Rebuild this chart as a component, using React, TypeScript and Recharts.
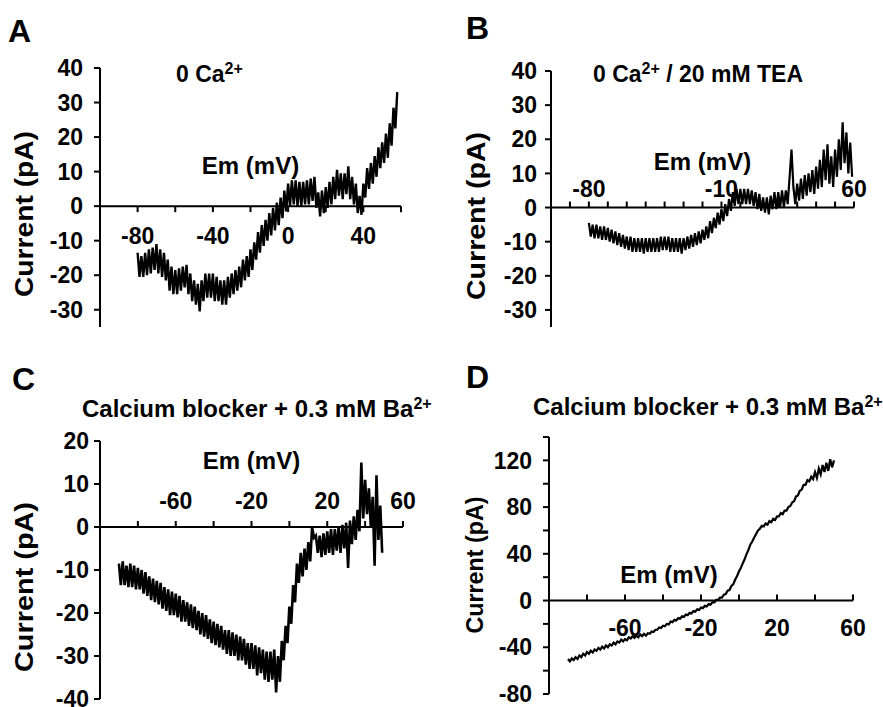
import React from 'react';
import { LineChart, Line, XAxis, YAxis, ReferenceLine, ReferenceDot } from 'recharts';

const FONT = '"Liberation Sans", Arial, Helvetica, sans-serif';

// I-V traces, [Em (mV), current (pA)]
const traceA: [number, number][] = [
  [-80, -13.5], [-79, -20.5], [-78, -14.5], [-77, -20.5], [-76, -13.5], [-75, -20], [-74, -12.5], [-73, -19.5], [-72, -12], [-71, -18.5],
  [-70, -11], [-69, -19.5], [-68, -12.5], [-67, -20.5], [-66, -13.5], [-65, -21.5], [-64, -15.5], [-63, -24.5], [-62, -17.5], [-61, -25.5],
  [-60, -18.5], [-59, -25.5], [-58, -18], [-57, -24.5], [-56, -17.5], [-55, -23.5], [-54, -17], [-53, -25.5], [-52, -19.5], [-51, -27.5],
  [-50, -21.5], [-49, -28.5], [-48, -22.5], [-47, -30.5], [-46, -21.5], [-45, -27.5], [-44, -19.5], [-43, -26.5], [-42, -19.5], [-41, -26.5],
  [-40, -19.5], [-39, -27.5], [-38, -20.5], [-37, -27.5], [-36, -21.5], [-35, -28.5], [-34, -21.5], [-33, -28.5], [-32, -20.5], [-31, -26.5],
  [-30, -19.5], [-29, -25.5], [-28, -18.5], [-27, -24.5], [-26, -17.5], [-25, -23.5], [-24, -15.5], [-23, -21.5], [-22, -14.5], [-21, -20.5],
  [-20, -12.5], [-19, -18.5], [-18, -10.5], [-17, -15.5], [-16, -7.5], [-15, -13.5], [-14, -5.5], [-13, -11.5], [-12, -4], [-11, -10],
  [-10, -2], [-9, -8.5], [-8, -0.5], [-7, -7], [-6, 1], [-5, -5.5], [-4, 2.5], [-3, -3.5], [-2, 4.5], [-1, -1.5],
  [0, 6.5], [1, 0], [2, 7.5], [3, 0.5], [4, 7.5], [5, 0], [6, 7], [7, 0], [8, 7], [9, 0.5],
  [10, 7.5], [11, 0.5], [12, 8], [13, 1.5], [14, 8.5], [15, -0.5], [16, 4], [17, -3], [18, 4.5], [19, -2],
  [20, 5.5], [21, -0.5], [22, 7], [23, 0.5], [24, 8.5], [25, 2], [26, 10.5], [27, 3], [28, 9.5], [29, 2],
  [30, 9.5], [31, 3.5], [32, 11.5], [33, 2], [34, 8.5], [35, 0.5], [36, 6.5], [37, -2], [38, 3], [39, -2.5],
  [40, 6.5], [41, 2.5], [42, 11], [43, 5], [44, 12.5], [45, 6.5], [46, 14.5], [47, 8.5], [48, 17], [49, 11],
  [50, 18.5], [51, 12.5], [52, 21], [53, 14], [54, 24], [55, 17.5], [56, 28.5], [57, 22.5], [58, 33],
];

const traceB: [number, number][] = [
  [-80, -4.5], [-79, -8.5], [-78, -5], [-77, -9], [-76, -5], [-75, -9], [-74, -5.5], [-73, -9.5], [-72, -5.5], [-71, -9.5],
  [-70, -6], [-69, -10], [-68, -6.5], [-67, -10.5], [-66, -7], [-65, -11], [-64, -7.5], [-63, -11.5], [-62, -8], [-61, -12],
  [-60, -8.5], [-59, -12.5], [-58, -8.5], [-57, -13], [-56, -9], [-55, -13], [-54, -9], [-53, -13], [-52, -9], [-51, -13.5],
  [-50, -9], [-49, -13], [-48, -9], [-47, -13], [-46, -9], [-45, -13], [-44, -9], [-43, -13], [-42, -8.5], [-41, -12.5],
  [-40, -8.5], [-39, -12.5], [-38, -8.5], [-37, -13], [-36, -9], [-35, -13], [-34, -9], [-33, -13], [-32, -9], [-31, -13.5],
  [-30, -9], [-29, -12.5], [-28, -8.5], [-27, -12], [-26, -8], [-25, -11.5], [-24, -7.5], [-23, -11], [-22, -7], [-21, -10.5],
  [-20, -6.5], [-19, -9.5], [-18, -5.5], [-17, -9], [-16, -4], [-15, -7.5], [-14, -3], [-13, -6], [-12, -1.5], [-11, -5],
  [-10, -0.5], [-9, -4], [-8, 1], [-7, -2.5], [-6, 2.5], [-5, -1], [-4, 4.5], [-3, 0.5], [-2, 5.5], [-1, 1],
  [0, 5.5], [1, 1], [2, 5.5], [3, 1], [4, 5.5], [5, 1], [6, 5], [7, 0.5], [8, 4.5], [9, -0.5],
  [10, 4], [11, -1], [12, 3], [13, -1.5], [14, 3], [15, -2], [16, 3.5], [17, -0.5], [18, 4.5], [19, -0.5],
  [20, 4.5], [21, 0], [22, 5], [23, 0], [24, 5], [25, 1], [26, 9], [27, 17], [28, 6], [29, 1],
  [30, 7], [31, 2], [32, 8.5], [33, 2.5], [34, 9.5], [35, 3.5], [36, 10], [37, 4.5], [38, 11], [39, 4],
  [40, 12], [41, 5.5], [42, 14], [43, 6], [44, 17], [45, 8], [46, 18.5], [47, 7], [48, 15], [49, 6],
  [50, 17], [51, 9], [52, 20], [53, 11], [54, 25], [55, 13], [56, 22], [57, 10], [58, 19], [59, 9],
];

const traceC: [number, number][] = [
  [-90, -8.5], [-89, -13.5], [-88, -8], [-87, -13.5], [-86, -9], [-85, -14], [-84, -8.5], [-83, -14], [-82, -9], [-81, -14.5],
  [-80, -9.5], [-79, -14.5], [-78, -10], [-77, -15.5], [-76, -10.5], [-75, -16], [-74, -11.5], [-73, -17], [-72, -12], [-71, -17.5],
  [-70, -12.5], [-69, -18], [-68, -13], [-67, -19], [-66, -14], [-65, -19.5], [-64, -14.5], [-63, -20.5], [-62, -15], [-61, -20.5],
  [-60, -15.5], [-59, -21], [-58, -16], [-57, -22], [-56, -17], [-55, -22], [-54, -17.5], [-53, -23], [-52, -18], [-51, -23.5],
  [-50, -18.5], [-49, -24], [-48, -19.5], [-47, -25], [-46, -20], [-45, -25.5], [-44, -20.5], [-43, -26], [-42, -21.5], [-41, -27],
  [-40, -22], [-39, -27.5], [-38, -22.5], [-37, -28], [-36, -23], [-35, -28.5], [-34, -24], [-33, -29.5], [-32, -24], [-31, -30],
  [-30, -24.5], [-29, -30], [-28, -25], [-27, -31], [-26, -25.5], [-25, -31], [-24, -26], [-23, -32], [-22, -27], [-21, -33],
  [-20, -27], [-19, -33], [-18, -27.5], [-17, -34.5], [-16, -28], [-15, -34], [-14, -28.5], [-13, -35.5], [-12, -29], [-11, -36],
  [-10, -29], [-9, -35.5], [-8, -28.5], [-7, -38.5], [-6, -30], [-5, -36], [-4, -26.5], [-3, -31], [-2, -23], [-1, -27],
  [0, -18.5], [1, -22.5], [2, -13.5], [3, -17.5], [4, -8.5], [5, -13], [6, -6], [7, -11.5], [8, -5], [9, -10],
  [10, -3.5], [11, -8], [12, 0], [13, -2.5], [14, -2], [15, -6], [16, -2], [17, -7], [18, -1.5], [19, -6.5],
  [20, -1], [21, -6], [22, -0.5], [23, -6.5], [24, -0.5], [25, -5.5], [26, 0], [27, -6], [28, 0.5], [29, -5],
  [30, 1], [31, -9.5], [32, 1.5], [33, -4], [34, 2.5], [35, -3], [36, 4], [37, -1], [38, 15], [39, 2],
  [40, 11], [41, 3], [42, 9], [43, 0], [44, 7], [45, -9], [46, 12], [47, -3], [48, 5], [49, -6],
];

const traceD: [number, number][] = [
  [-90, -50], [-89, -52], [-88, -49.5], [-87, -51], [-86, -48.5], [-85, -50], [-84, -47], [-83, -48.5], [-82, -45.5], [-81, -47],
  [-80, -44], [-79, -45.5], [-78, -43], [-77, -44.5], [-76, -42], [-75, -43], [-74, -40.5], [-73, -42], [-72, -39.5], [-71, -41],
  [-70, -38.5], [-69, -40], [-68, -37.5], [-67, -38.5], [-66, -36], [-65, -37.5], [-64, -35], [-63, -36], [-62, -33.5], [-61, -35],
  [-60, -33], [-59, -34], [-58, -31.5], [-57, -32.5], [-56, -30.5], [-55, -32], [-54, -30], [-53, -31.5], [-52, -29], [-51, -30.5],
  [-50, -28.5], [-49, -30], [-48, -28], [-47, -28.5], [-46, -26.5], [-45, -27], [-44, -25], [-43, -25], [-42, -23], [-41, -23.5],
  [-40, -21.5], [-39, -22], [-38, -20], [-37, -20.5], [-36, -18], [-35, -18.5], [-34, -16.5], [-33, -17], [-32, -15], [-31, -15.5],
  [-30, -13.5], [-29, -14], [-28, -12], [-27, -12.5], [-26, -10.5], [-25, -11], [-24, -9], [-23, -9.5], [-22, -7.5], [-21, -8],
  [-20, -6], [-19, -6.5], [-18, -4.5], [-17, -5], [-16, -3], [-15, -3.5], [-14, -1.5], [-13, -1.5], [-12, 0.5], [-11, 0.5],
  [-10, 2.5], [-9, 2.5], [-8, 5], [-7, 5.5], [-6, 8.5], [-5, 9], [-4, 12.5], [-3, 14], [-2, 18], [-1, 21],
  [0, 25], [1, 28], [2, 32], [3, 35.5], [4, 40], [5, 43.5], [6, 48], [7, 50.5], [8, 54], [9, 57],
  [10, 60], [11, 61.5], [12, 64], [13, 63.5], [14, 66], [15, 65], [16, 68], [17, 67], [18, 70], [19, 69],
  [20, 72], [21, 72], [22, 75], [23, 74], [24, 77], [25, 77], [26, 80], [27, 81], [28, 84], [29, 85],
  [30, 89], [31, 90], [32, 94], [33, 95], [34, 99], [35, 99], [36, 103], [37, 102], [38, 106], [39, 104],
  [40, 110], [41, 105], [42, 113], [43, 108], [44, 116], [45, 110], [46, 118], [47, 111], [48, 121], [49, 114],
  [50, 120],
];

// axis ticks
const xTicks20 = [-80, -60, -40, -20, 0, 20, 40, 60];
const xTicks10 = [-90, -80, -70, -60, -50, -40, -30, -20, -10, 0, 10, 20, 30, 40, 50, 60];
const xLabelsA = [-80, -40, 0, 40];
const xLabelsB = [-80, -10, 60];
const xLabelsCD = [-60, -20, 20, 60];
const yTicksAB = [-30, -20, -10, 0, 10, 20, 30, 40];
const yTicksC = [-40, -30, -20, -10, 0, 10, 20];
const yTicksD = [-80, -60, -40, -20, 0, 20, 40, 60, 80, 100, 120, 140];
const yLabelsD = [-80, -40, 0, 40, 80, 120];

type PanelProps = {
  trace: [number, number][];
  left: number;
  top: number;
  width: number;
  height: number;
  margin: { top: number; right: number; bottom: number; left: number };
  yWidth: number;
  yDomain: [number, number];
  yTicks: number[];
  yLabels?: number[];
  yTickMargin: number;
  xTicks: number[];
  xLabels: number[];
  tickDir: number; // 1 = ticks below the zero line, -1 = above
  labelDy: number;
  emDx: number;
  emDy: number;
  strokeWidth: number;
};

const textStyle = { fontFamily: FONT, fontWeight: 700, fill: '#000' };

// zero line acts as the x axis, with the "Em (mV)" label over it
const zeroAxis = (emDx: number, emDy: number) => (p: any) => (
  <g>
    <line x1={p.x1} x2={p.x2} y1={p.y1} y2={p.y2} stroke="#000" strokeWidth={2} />
    <text x={(p.x1 + p.x2) / 2 + emDx} y={p.y1 - emDy} textAnchor="middle" fontSize={24} {...textStyle}>
      Em (mV)
    </text>
  </g>
);

const xTick = (label: string, dir: number, labelDy: number) => (p: any) => (
  <g>
    <line x1={p.cx} x2={p.cx} y1={p.cy} y2={p.cy + dir * 6} stroke="#000" strokeWidth={2} />
    {label && (
      <text x={p.cx} y={p.cy + labelDy} textAnchor="middle" fontSize={23} {...textStyle}>
        {label}
      </text>
    )}
  </g>
);

function Panel(p: PanelProps) {
  const data = p.trace.map(([em, i]) => ({ em, i }));
  return (
    <div style={{ position: 'absolute', left: p.left, top: p.top }}>
      <LineChart width={p.width} height={p.height} data={data} margin={p.margin}>
        <XAxis dataKey="em" type="number" domain={[-100, 60]} hide allowDataOverflow />
        <YAxis
          type="number"
          domain={p.yDomain}
          ticks={p.yTicks}
          interval={0}
          width={p.yWidth}
          allowDataOverflow
          tickSize={6}
          tickMargin={p.yTickMargin}
          axisLine={{ stroke: '#000', strokeWidth: 2 }}
          tickLine={{ stroke: '#000', strokeWidth: 2 }}
          tick={{ fontSize: 23, fontFamily: FONT, fontWeight: 700, fill: '#000' }}
          tickFormatter={(v: number) => (!p.yLabels || p.yLabels.includes(v) ? String(v) : '')}
        />
        <Line
          dataKey="i"
          type="linear"
          stroke="#000"
          strokeWidth={p.strokeWidth}
          dot={false}
          isAnimationActive={false}
        />
        <ReferenceLine y={0} shape={zeroAxis(p.emDx, p.emDy)} />
        {p.xTicks.map((v) => (
          <ReferenceDot
            key={v}
            x={v}
            y={0}
            r={1}
            shape={xTick(p.xLabels.includes(v) ? String(v) : '', p.tickDir, p.labelDy)}
          />
        ))}
      </LineChart>
    </div>
  );
}

const Sup = ({ children }: { children: string }) => (
  <tspan dy={-8} fontSize={16}>
    {children}
  </tspan>
);

export default function App() {
  return (
    <div style={{ position: 'absolute', left: 0, top: 0, width: 883, height: 707, background: '#fff' }}>
      <Panel
        trace={traceA}
        left={0}
        top={0}
        width={441}
        height={340}
        margin={{ top: 68, right: 40, bottom: 13, left: 0 }}
        yWidth={100}
        yDomain={[-35, 40]}
        yTicks={yTicksAB}
        yTickMargin={11}
        xTicks={xTicks20}
        xLabels={xLabelsA}
        tickDir={1}
        labelDy={38}
        emDx={0}
        emDy={32}
        strokeWidth={2.4}
      />
      <Panel
        trace={traceB}
        left={441}
        top={0}
        width={442}
        height={340}
        margin={{ top: 71, right: 29, bottom: 13, left: 0 }}
        yWidth={110}
        yDomain={[-35, 40]}
        yTicks={yTicksAB}
        yTickMargin={8}
        xTicks={xTicks10}
        xLabels={xLabelsB}
        tickDir={-1}
        labelDy={-11}
        emDx={0}
        emDy={38}
        strokeWidth={2.2}
      />
      <Panel
        trace={traceC}
        left={0}
        top={340}
        width={441}
        height={367}
        margin={{ top: 101, right: 38, bottom: 8, left: 0 }}
        yWidth={100}
        yDomain={[-40, 20]}
        yTicks={yTicksC}
        yTickMargin={5}
        xTicks={xTicks20}
        xLabels={xLabelsCD}
        tickDir={-1}
        labelDy={-18}
        emDx={0}
        emDy={58}
        strokeWidth={2.6}
      />
      <Panel
        trace={traceD}
        left={441}
        top={340}
        width={442}
        height={367}
        margin={{ top: 97, right: 30, bottom: 13, left: 0 }}
        yWidth={108}
        yDomain={[-80, 140]}
        yTicks={yTicksD}
        yLabels={yLabelsD}
        yTickMargin={11}
        xTicks={xTicks20}
        xLabels={xLabelsCD}
        tickDir={-1}
        labelDy={35}
        emDx={-32}
        emDy={18}
        strokeWidth={2.2}
      />
      <svg
        width={883}
        height={707}
        style={{ position: 'absolute', left: 0, top: 0, pointerEvents: 'none' }}
        fontFamily={FONT}
        fontWeight={700}
      >
        <text x={8} y={42} fontSize={32}>A</text>
        <text x={466} y={39} fontSize={32}>B</text>
        <text x={12} y={390} fontSize={32}>C</text>
        <text x={466} y={388} fontSize={32}>D</text>

        <text x={176} y={82} fontSize={23}>
          0 Ca<Sup>2+</Sup>
        </text>
        <text x={593} y={82} fontSize={23}>
          0 Ca<Sup>2+</Sup>
          <tspan dy={8}> / 20 mM TEA</tspan>
        </text>
        <text x={82} y={417} fontSize={24}>
          Calcium blocker + 0.3 mM Ba<Sup>2+</Sup>
        </text>
        <text x={533} y={415} fontSize={24}>
          Calcium blocker + 0.3 mM Ba<Sup>2+</Sup>
        </text>

        <text transform="translate(24,214) rotate(-90)" textAnchor="middle" dominantBaseline="central" fontSize={25} textLength={166} lengthAdjust="spacingAndGlyphs">
          Current (pA)
        </text>
        <text transform="translate(476,216) rotate(-90)" textAnchor="middle" dominantBaseline="central" fontSize={25} textLength={168} lengthAdjust="spacingAndGlyphs">
          Current (pA)
        </text>
        <text transform="translate(24,587) rotate(-90)" textAnchor="middle" dominantBaseline="central" fontSize={25} textLength={170} lengthAdjust="spacingAndGlyphs">
          Current (pA)
        </text>
        <text transform="translate(474,565) rotate(-90)" textAnchor="middle" dominantBaseline="central" fontSize={24} textLength={137} lengthAdjust="spacingAndGlyphs">
          Current (pA)
        </text>
      </svg>
    </div>
  );
}
